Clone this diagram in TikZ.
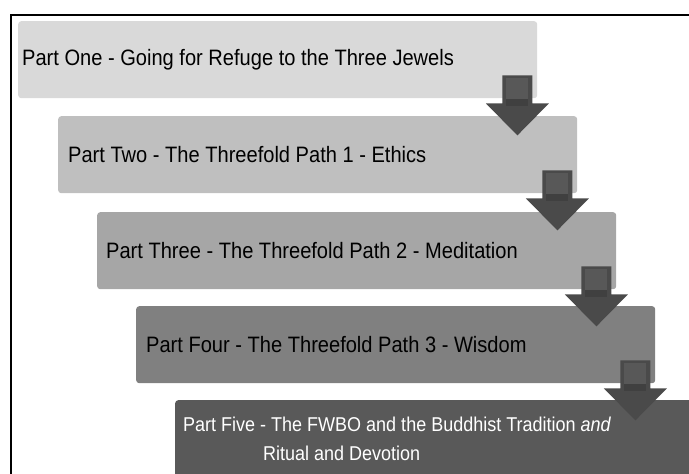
\documentclass[tikz,border=0pt]{standalone}
\usepackage{fontspec}
\setmainfont{Liberation Sans}[FakeStretch=0.9]
\begin{document}
\begin{tikzpicture}[x=1pt,y=-1pt]
\useasboundingbox (0,0) rectangle (689,474);
\definecolor{c1}{HTML}{D9D9D9}
\definecolor{c2}{HTML}{BFBFBF}
\definecolor{c3}{HTML}{A6A6A6}
\definecolor{c4}{HTML}{808080}
\definecolor{c5}{HTML}{595959}
\definecolor{arrowc}{HTML}{4A4A4A}
\definecolor{arrowin}{HTML}{585858}
\definecolor{arrowband}{HTML}{404040}
\tikzset{
  box/.style={rounded corners=3pt, minimum width=519pt, minimum height=77pt, anchor=north west, inner sep=0pt},
  lbl/.style={anchor=west, inner sep=0pt, font=\fontsize{22.3}{26}\selectfont},
  lblfive/.style={anchor=west, inner sep=0pt, text=white, align=left, font=\fontsize{20}{28.5}\selectfont},
  downarrow/.pic={
    \fill[arrowc] (-15,0) -- (15,0) -- (15,28) -- (31.5,28) -- (0,60) -- (-31.5,28) -- (-15,28) -- cycle;
    \fill[arrowin] (-11,3) rectangle (11,24);
    \fill[arrowband] (-11,24) rectangle (11,31);
  }
}
\draw[line width=2pt] (11,490) -- (11,15) -- (700,15);
\node[box, fill=c1] (p1) at (18,21) {};
\node[box, fill=c2] (p2) at (58,116) {};
\node[box, fill=c3] (p3) at (97,212) {};
\node[box, fill=c4] (p4) at (136,306) {};
\node[box, fill=c5] (p5) at (175,400) {};
\node[lbl] (t1) at ([xshift=4pt]p1.west) {Part One - Going for Refuge to the Three Jewels};
\node[lbl] (t2) at ([xshift=10pt]p2.west) {Part Two - The Threefold Path 1 - Ethics};
\node[lbl] (t3) at ([xshift=9pt]p3.west) {Part Three - The Threefold Path 2 - Meditation};
\node[lbl] (t4) at ([xshift=10pt]p4.west) {Part Four - The Threefold Path 3 - Wisdom};
\node[lblfive] (t5) at ([xshift=8pt]p5.west) {Part Five - The FWBO and the Buddhist Tradition \textit{and}\\\hspace*{80pt}Ritual and Devotion};
\pic at ([xshift=-20pt,yshift=23pt]p1.south east) {downarrow};
\pic at ([xshift=-20pt,yshift=23pt]p2.south east) {downarrow};
\pic at ([xshift=-20pt,yshift=23pt]p3.south east) {downarrow};
\pic at ([xshift=-20pt,yshift=23pt]p4.south east) {downarrow};
\end{tikzpicture}
\end{document}
